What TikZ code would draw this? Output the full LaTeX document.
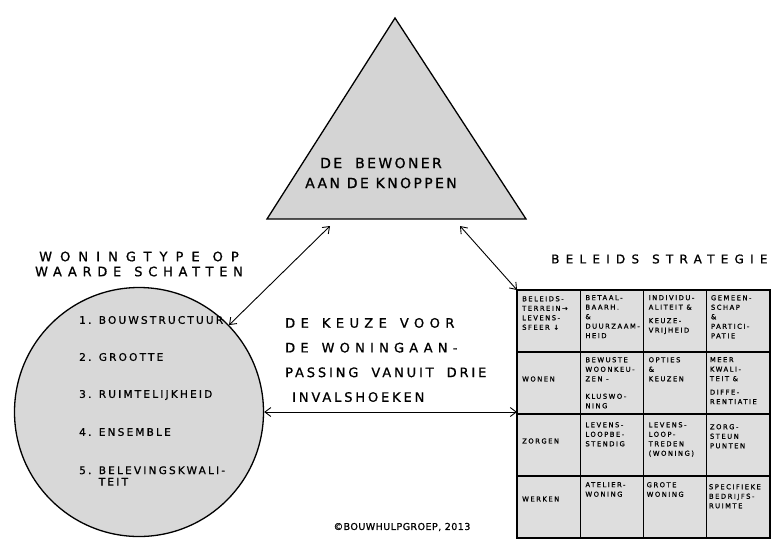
\documentclass[tikz,border=0pt]{standalone}
\usepackage{fontspec}
\usetikzlibrary{arrows.meta}
\newfontfamily\handfont[FakeBold=0.9]{DejaVu Sans}
% size, baseline skip, letter spacing
\newcommand\hw[3]{\handfont\fontsize{#1pt}{#2pt}\selectfont\addfontfeature{LetterSpace=#3}}
% wide gap between words in spaced-out lines
\newcommand\wgap{\hspace{13pt}}
\definecolor{trifill}{RGB}{212,212,212}
\definecolor{circfill}{RGB}{216,216,216}
\definecolor{tabfill}{RGB}{222,222,222}
\tikzset{
  outline/.style={draw=black, line width=1.3pt},
  link/.style={{Straight Barb[length=6pt,width=9pt]}-{Straight Barb[length=6pt,width=9pt]}, line width=0.9pt},
  cellbox/.style={draw=black, line width=1.4pt, fill=tabfill, minimum width=63.25pt, minimum height=62pt, inner sep=0pt, outer sep=0pt, anchor=north west},
  celltxt/.style={anchor=north west, align=left, inner sep=0pt, font=\hw{6.8}{9.5}{22}},
  rowhead/.style={anchor=west, align=left, inner sep=0pt, font=\hw{6.8}{9.5}{22}},
  item/.style={anchor=west, align=left, inner sep=0pt, font=\hw{10.5}{11.5}{21}},
}
\begin{document}
\begin{tikzpicture}[x=1pt, y=-1pt]
\useasboundingbox (0,0) rectangle (781,542);

% --- triangle: the resident in control
\coordinate (apex) at (395,18);
\coordinate (bl) at (267,219);
\coordinate (br) at (526,219);
\filldraw[outline, fill=trifill] (apex) -- (bl) -- (br) -- cycle;
\node[font=\hw{14}{20}{17}, align=center, inner sep=0pt] (bewoner) at (381,173)
  {DE\wgap{}BEWONER\\AAN DE KNOPPEN};
\coordinate (triL) at (330,226);
\coordinate (triR) at (460,226);

% --- circle: dwelling types
\node[font=\hw{13}{15}{44}, align=center, inner sep=0pt] (typetitle) at (139,264)
  {{\addfontfeature{LetterSpace=62}WONINGTYPE\wgap{}OP}\\WAARDE\wgap{}SCHATTEN};
\node[circle, outline, fill=circfill, minimum size=249pt, inner sep=0pt] (circ) at (139,412) {};
\node[item] (i1) at (79,320) {1. BOUWSTRUCTUUR};
\node[item] (i2) at (79,357) {2. GROOTTE};
\node[item] (i3) at (79,395) {3. RUIMTELIJKHEID};
\node[item] (i4) at (79,432) {4. ENSEMBLE};
\node[item] (i5) at (79,476) {5. BELEVINGSKWALI-\\\phantom{5. }TEIT};

% --- central statement
\node[anchor=west, align=left, inner sep=0pt, font=\hw{13}{24.7}{22}] (keuze) at (285,360)
  {{\addfontfeature{LetterSpace=42}DE\wgap{}KEUZE\wgap{}VOOR}\\
   {\addfontfeature{LetterSpace=40}DE\wgap{}WONINGAAN-}\\
   PASSING\wgap{}VANUIT\wgap{}DRIE\\
   \hspace{7pt}INVALSHOEKEN};

% --- policy strategy table
\node[anchor=west, inner sep=0pt, font=\hw{12}{14}{52}] (beleid) at (551,259) {BELEIDS\wgap{}STRATEGIE};
\foreach \r in {1,...,4}{
  \foreach \c in {1,...,4}{
    \node[cellbox] (c\r\c) at ({517+(\c-1)*63.25},{290+(\r-1)*62}) {};
  }
}
\node[celltxt] (t11) at ([shift={(5,6)}]c11.north west) {BELEIDS-\\TERREIN→\\LEVENS-\\SFEER ↓};
\node[celltxt] (t12) at ([shift={(5,5)}]c12.north west) {BETAAL-\\BAARH.\\\&\\DUURZAAM-\\HEID};
\node[celltxt] (t13) at ([shift={(5,5)}]c13.north west) {INDIVIDU-\\ALITEIT \&\\[4pt]KEUZE-\\VRIJHEID};
\node[celltxt] (t14) at ([shift={(4,5)}]c14.north west) {GEMEEN-\\SCHAP\\\&\\PARTICI-\\PATIE};

\node[rowhead] (t21) at ([shift={(5,-4)}]c21.west) {WONEN};
\node[celltxt] (t22) at ([shift={(5,5)}]c22.north west) {BEWUSTE\\WOONKEU-\\ZEN -\\[8pt]KLUSWO-\\NING};
\node[celltxt] (t23) at ([shift={(5,5)}]c23.north west) {OPTIES\\\&\\KEUZEN};
\node[celltxt] (t24) at ([shift={(3,5)}]c24.north west) {MEER\\KWALI-\\TEIT \&\\[4pt]DIFFE-\\RENTIATIE};

\node[rowhead] (t31) at ([shift={(5,-4)}]c31.west) {ZORGEN};
\node[celltxt] (t32) at ([shift={(5,8)}]c32.north west) {LEVENS-\\LOOPBE-\\STENDIG};
\node[celltxt] (t33) at ([shift={(5,8)}]c33.north west) {LEVENS-\\LOOP-\\TREDEN\\(WONING)};
\node[celltxt] (t34) at ([shift={(3,10)}]c34.north west) {ZORG-\\STEUN\\PUNTEN};

\node[rowhead] (t41) at ([shift={(5,-8)}]c41.west) {WERKEN};
\node[celltxt] (t42) at ([shift={(5,6)}]c42.north west) {ATELIER-\\WONING};
\node[celltxt] (t43) at ([shift={(3,6)}]c43.north west) {GROTE\\WONING};
\node[celltxt] (t44) at ([shift={(2,8)}]c44.north west) {SPECIFIEKE\\BEDRIJFS-\\RUIMTE};

% --- connections between the three viewpoints
\draw[link] (triL) -- (circ.44);
\draw[link] (triR) -- (c11.north west);
\draw[link] (circ.east) -- (circ.east -| c21.west);

% --- credit line
\node[inner sep=0pt, font=\hw{9.5}{11}{5}] (credit) at (402,527) {©BOUWHULPGROEP, 2013};
\end{tikzpicture}
\end{document}
